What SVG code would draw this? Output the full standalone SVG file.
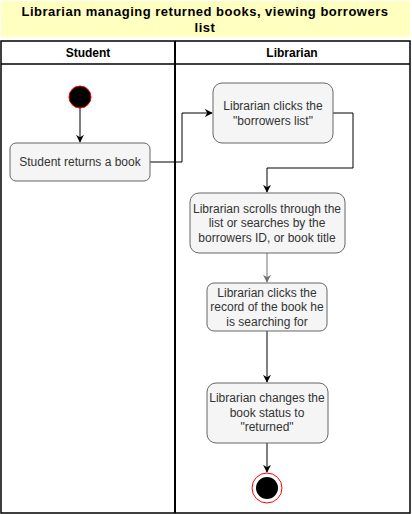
<svg xmlns="http://www.w3.org/2000/svg" width="412" height="514" viewBox="0 0 412 514">
<style>
.box{fill:#f5f5f5;stroke:#666666;stroke-width:1}
.t{font-family:"Liberation Sans",Arial,sans-serif;font-size:12px;fill:#333333;text-anchor:middle}
.h{font-family:"Liberation Sans",Arial,sans-serif;font-size:12px;font-weight:bold;fill:#000000;text-anchor:middle}
.ti{font-family:"Liberation Sans",Arial,sans-serif;font-size:13px;font-weight:bold;fill:#000000;text-anchor:middle;letter-spacing:0.5px}
.ln{fill:none;stroke:#000000;stroke-width:1}
</style>
<defs>
<marker id="ar" viewBox="0 0 10 10" refX="9" refY="5" markerWidth="8" markerHeight="8" markerUnits="userSpaceOnUse" orient="auto"><path d="M0,0 L10,5 L0,10 L3,5 Z" fill="#000"/></marker>
<marker id="arg" viewBox="0 0 10 10" refX="9" refY="5" markerWidth="8" markerHeight="8" markerUnits="userSpaceOnUse" orient="auto"><path d="M0,0 L10,5 L0,10 L3,5 Z" fill="#707070"/></marker>
</defs>
<rect width="412" height="514" fill="#ffffff"/>
<g id="title">
<rect x="1" y="1" width="409" height="36" fill="#ffffc0"/>
<text class="ti" x="205" y="16">Librarian managing returned books, viewing borrowers</text>
<text class="ti" x="205" y="32">list</text>
</g>
<g id="pool">
<rect x="1" y="41" width="409" height="472" fill="none" stroke="#000" stroke-width="1.5"/>
<line x1="1" y1="64" x2="410" y2="64" stroke="#000" stroke-width="1.5"/>
<line x1="175" y1="41" x2="175" y2="513" stroke="#000" stroke-width="2"/>
<text class="h" x="88" y="57">Student</text>
<text class="h" x="292" y="57">Librarian</text>
</g>
<g id="connectors">
<path class="ln" d="M80,108 L80,142" marker-end="url(#ar)"/>
<path class="ln" d="M150,162 L182,162 L182,113 L212,113" marker-end="url(#ar)"/>
<path class="ln" d="M333,113 L353,113 L353,168 L267,168 L267,192" marker-end="url(#ar)"/>
<path d="M267,253 L267,282" fill="none" stroke="#707070" stroke-width="1" marker-end="url(#arg)"/>
<path class="ln" d="M267,331 L267,382" marker-end="url(#ar)"/>
<path class="ln" d="M267,443 L267,472" marker-end="url(#ar)"/>
</g>
<g id="start">
<circle cx="80" cy="97" r="11" fill="#000" stroke="#ff0000" stroke-width="1"/>
</g>
<g id="student-returns">
<rect class="box" x="10" y="143" width="140" height="38" rx="6"/>
<text class="t" x="80" y="166">Student returns a book</text>
</g>
<g id="clicks-list">
<rect class="box" x="213" y="83" width="120" height="60" rx="9"/>
<text class="t" x="273" y="110">Librarian clicks the</text>
<text class="t" x="273" y="125">"borrowers list"</text>
</g>
<g id="scrolls">
<rect class="box" x="190" y="193" width="155" height="60" rx="9"/>
<text class="t" x="267" y="213">Librarian scrolls through the</text>
<text class="t" x="267" y="227">list or searches by the</text>
<text class="t" x="267" y="242">borrowers ID, or book title</text>
</g>
<g id="clicks-record">
<rect class="box" x="207" y="283" width="120" height="48" rx="7"/>
<text class="t" x="267" y="297">Librarian clicks the</text>
<text class="t" x="267" y="311">record of the book he</text>
<text class="t" x="267" y="326">is searching for</text>
</g>
<g id="changes-status">
<rect class="box" x="207" y="383" width="121" height="60" rx="9"/>
<text class="t" x="267" y="402">Librarian changes the</text>
<text class="t" x="267" y="417">book status to</text>
<text class="t" x="267" y="431">"returned"</text>
</g>
<g id="end">
<circle cx="267" cy="488" r="15" fill="#fff" stroke="#ff0000" stroke-width="1"/>
<circle cx="267" cy="488" r="11" fill="#000"/>
</g>
</svg>
